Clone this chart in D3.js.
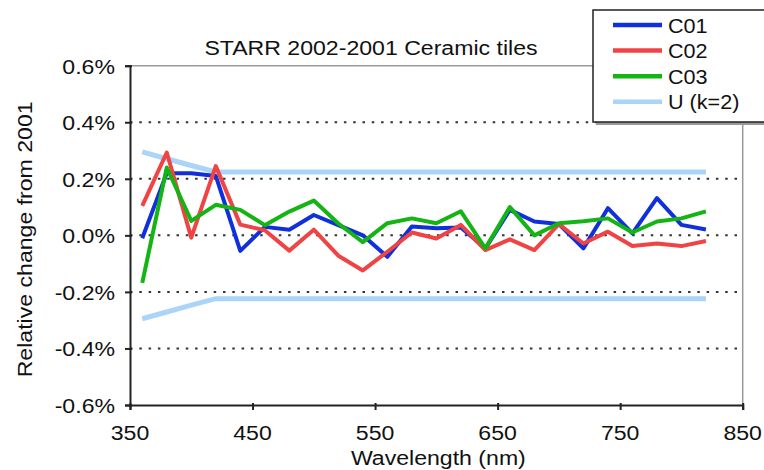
<!DOCTYPE html>
<html>
<head>
<meta charset="utf-8">
<script src="https://cdn.jsdelivr.net/npm/d3@7"></script>
<style>
  body { margin: 0; background: #fff; }
  svg text { font-family: "Liberation Sans", Arial, sans-serif; fill: #111; }
</style>
</head>
<body>
<svg id="chart" width="764" height="470"></svg>
<script>
const wavelengths = [360, 380, 400, 420, 440, 460, 480, 500, 520, 540, 560, 580,
    600, 620, 640, 660, 680, 700, 720, 740, 760, 780, 800, 820];
const c01 = [-0.01, 0.22, 0.22, 0.21, -0.055, 0.03, 0.02, 0.072, 0.036, 0.0, -0.076, 0.031,
    0.025, 0.028, -0.046, 0.09, 0.049, 0.04, -0.046, 0.096, 0.007, 0.132, 0.037, 0.021];
const c02 = [0.104, 0.293, -0.008, 0.245, 0.038, 0.018, -0.054, 0.02, -0.072, -0.124, -0.058, 0.01,
    -0.011, 0.037, -0.052, -0.014, -0.052, 0.04, -0.029, 0.013, -0.038, -0.029, -0.038, -0.02];
const c03 = [-0.168, 0.24, 0.051, 0.108, 0.09, 0.036, 0.084, 0.123, 0.042, -0.024, 0.043, 0.06,
    0.043, 0.085, -0.046, 0.10, 0.0, 0.043, 0.05, 0.06, 0.01, 0.049, 0.06, 0.085];
const uPlus = [0.295, 0.271, 0.247, 0.224, 0.224, 0.224, 0.224, 0.224, 0.224, 0.224, 0.224, 0.224,
    0.224, 0.224, 0.224, 0.224, 0.224, 0.224, 0.224, 0.224, 0.224, 0.224, 0.224, 0.224];
const uMinus = uPlus.map(v => -v);

const xTicks = [350, 450, 550, 650, 750, 850];
const yTicks = [-0.6, -0.4, -0.2, 0.0, 0.2, 0.4, 0.6];
const yTickLabels = ["-0.6%", "-0.4%", "-0.2%", "0.0%", "0.2%", "0.4%", "0.6%"];
const gridTicks = [-0.4, -0.2, 0.0, 0.2, 0.4];

const series = [
    { name: "C01", values: c01, color: "#1030dc", width: 4 },
    { name: "C02", values: c02, color: "#f04444", width: 4 },
    { name: "C03", values: c03, color: "#14b414", width: 4 }
];
const uColor = "#aad4f8";

const svg = d3.select("#chart");
const margin = { top: 65.7, right: 764 - 742.7, bottom: 470 - 405, left: 130 };
const width = 764, height = 470;

const x = d3.scaleLinear().domain([350, 850]).range([margin.left, width - margin.right]);
const y = d3.scaleLinear().domain([-0.6, 0.6]).range([height - margin.bottom, margin.top]);

// horizontally stretched text, like the source picture
function label(g, tx, ty, txt, anchor, rot) {
    return g.append("text")
        .attr("transform", `translate(${tx},${ty})` + (rot ? ` rotate(${rot})` : "") + " scale(1.1,1)")
        .attr("text-anchor", anchor)
        .style("font-size", "21px")
        .text(txt);
}

// plot frame (top & right in grey)
svg.append("path")
    .attr("d", `M${x(350)},${y(0.6)}H${x(850)}V${y(-0.6)}`)
    .attr("fill", "none")
    .attr("stroke", "#999")
    .attr("stroke-width", 1.5);

// dotted grid
svg.append("g").selectAll("line")
    .data(gridTicks)
    .enter().append("line")
    .attr("x1", x(350)).attr("x2", x(850))
    .attr("y1", d => y(d)).attr("y2", d => y(d))
    .attr("stroke", "#333")
    .attr("stroke-width", 2)
    .attr("stroke-dasharray", "2.5,6.8");

const line = d3.line().x((d, i) => x(wavelengths[i])).y(d => y(d));

// uncertainty band
[uPlus, uMinus].forEach(vals => {
    svg.append("path")
        .datum(vals)
        .attr("d", line)
        .attr("fill", "none")
        .attr("stroke", uColor)
        .attr("stroke-width", 5);
});

series.forEach(s => {
    svg.append("path")
        .datum(s.values)
        .attr("d", line)
        .attr("fill", "none")
        .attr("stroke", s.color)
        .attr("stroke-width", s.width)
        .attr("stroke-linejoin", "round");
});

// axes
const xAxis = svg.append("g")
    .attr("transform", `translate(0,${y(-0.6)})`)
    .call(d3.axisBottom(x).tickValues(xTicks).tickSize(5).tickFormat(""));
const yAxis = svg.append("g")
    .attr("transform", `translate(${x(350)},0)`)
    .call(d3.axisLeft(y).tickValues(yTicks).tickSize(5).tickFormat(""));
[xAxis, yAxis].forEach(a => {
    a.select(".domain").attr("stroke", "#222").attr("stroke-width", 2);
    a.selectAll(".tick line").attr("stroke", "#222").attr("stroke-width", 2);
});
// y tick marks cross the axis slightly
yAxis.selectAll(".tick line").attr("x1", 2);
xAxis.selectAll(".tick line").attr("y1", -2);

const labels = svg.append("g");
xTicks.forEach(t => label(labels, x(t), 440, String(t), "middle"));
yTicks.forEach((t, i) => label(labels, x(350) - 15, y(t) + 8, yTickLabels[i], "end"));

label(labels, (x(350) + x(850)) / 2 + 2, 465, "Wavelength (nm)", "middle");
label(labels, 32, (y(0.6) + y(-0.6)) / 2 + 4, "Relative change from 2001", "middle", -90);
label(labels, 371, 55, "STARR 2002-2001 Ceramic tiles", "middle");

// legend
const legendItems = [
    { name: "C01", color: series[0].color },
    { name: "C02", color: series[1].color },
    { name: "C03", color: series[2].color },
    { name: "U (k=2)", color: uColor }
];
const legend = svg.append("g").attr("transform", "translate(593,10)");
legend.append("rect")
    .attr("x", 3).attr("y", 3)
    .attr("width", 172).attr("height", 112)
    .attr("fill", "#999");
legend.append("rect")
    .attr("width", 172).attr("height", 112)
    .attr("fill", "#fff")
    .attr("stroke", "#222")
    .attr("stroke-width", 1.5);
const li = legend.selectAll(".legend-item")
    .data(legendItems)
    .enter().append("g")
    .attr("class", "legend-item")
    .attr("transform", (d, i) => `translate(0,${15 + i * 25.6})`);
li.append("line")
    .attr("x1", 20).attr("x2", 69)
    .attr("stroke", d => d.color)
    .attr("stroke-width", 4.5);
li.each(function(d) {
    d3.select(this).append("text")
        .attr("transform", "translate(75,7.5) scale(1.08,1)")
        .style("font-size", "20px")
        .text(d.name);
});
</script>
</body>
</html>
